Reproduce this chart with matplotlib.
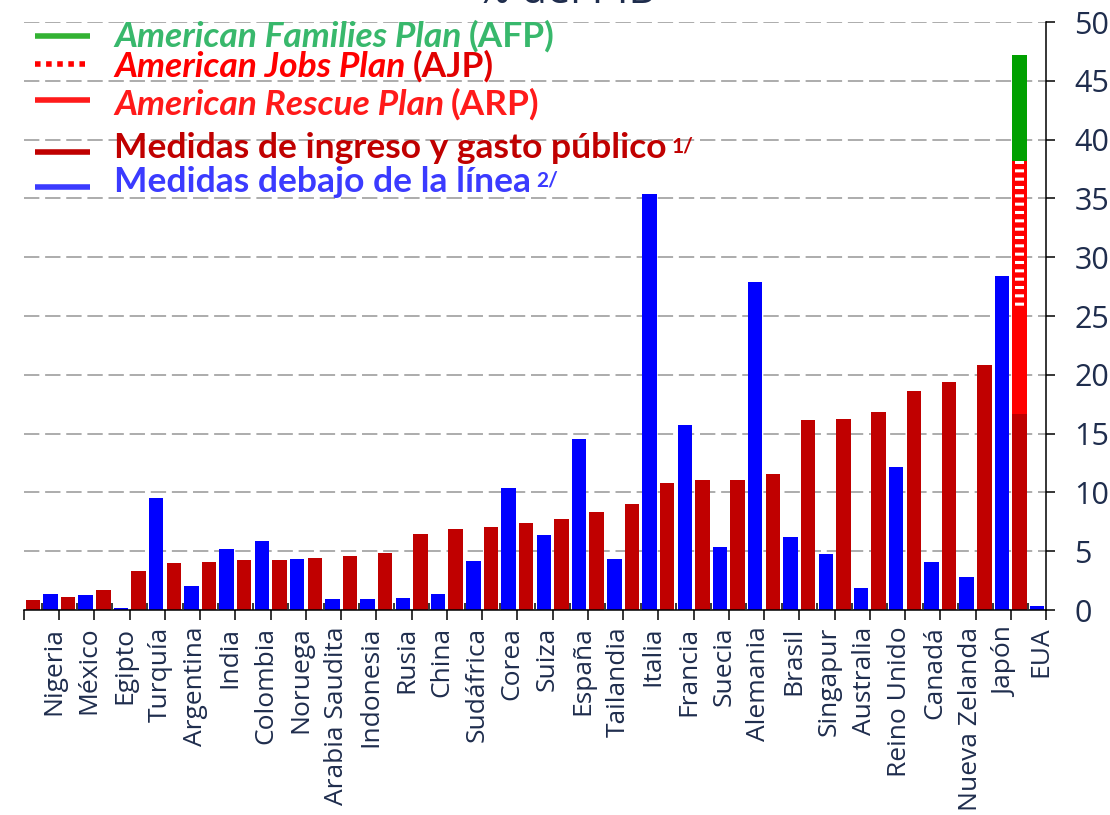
import numpy as np
import matplotlib.pyplot as plt
from matplotlib.lines import Line2D

paises = ["Nigeria", "México", "Egipto", "Turquía", "Argentina", "India",
          "Colombia", "Noruega", "Arabia Saudita", "Indonesia", "Rusia",
          "China", "Sudáfrica", "Corea", "Suiza", "España", "Tailandia",
          "Italia", "Francia", "Suecia", "Alemania", "Brasil", "Singapur",
          "Australia", "Reino Unido", "Canadá", "Nueva Zelanda", "Japón", "EUA"]
# medidas de ingreso y gasto publico (% del PIB)
ingreso_gasto = [0.86, 1.11, 1.69, 3.34, 4.03, 4.09, 4.23, 4.23, 4.43, 4.63,
                 4.83, 6.49, 6.86, 7.06, 7.37, 7.71, 8.37, 9.03, 10.83, 11.05,
                 11.08, 11.6, 16.15, 16.24, 16.87, 18.6, 19.43, 20.85, 16.67]
# medidas debajo de la linea (% del PIB)
debajo_linea = [1.34, 1.26, 0.2, 9.51, 2.03, 5.2, 5.83, 4.34, 0.91, 0.94,
                1.06, 1.37, 4.17, 10.34, 6.34, 14.57, 4.34, 35.4, 15.77, 5.37,
                27.93, 6.23, 4.75, 1.85, 12.14, 4.12, 2.84, 28.38, 0.31]
# planes adicionales de EUA
eua_arp = 8.9
eua_ajp = 12.6
eua_afp = 9.0

ROJO_OSC = '#c00000'
AZUL = '#0000ff'
ROJO = '#ff0000'
VERDE = '#00a000'
NAVY = '#1f2d4d'

plt.rcParams['font.family'] = ['Open Sans', 'DejaVu Sans']
plt.rcParams['hatch.linewidth'] = 2.2

W, H = 1110, 815
fig = plt.figure(figsize=(W/100, H/100), dpi=100)
ax = fig.add_axes([24/W, 1-610/H, (1046-24)/W, 588/H])

x = np.arange(len(paises))
bw = 0.41
ax.bar(x-0.25, ingreso_gasto, bw, color=ROJO_OSC, zorder=2)
ax.bar(x+0.25, debajo_linea, bw, color=AZUL, zorder=2)

# barra apilada de EUA
ie = len(paises)-1
base = ingreso_gasto[ie]
ax.bar(ie-0.25, eua_arp, bw, bottom=base, color=ROJO, zorder=2)
ax.bar(ie-0.25, eua_ajp, bw, bottom=base+eua_arp, color=ROJO, zorder=2)
ax.bar(ie-0.25, eua_ajp, bw*0.62, bottom=base+eua_arp, facecolor='none',
       edgecolor='white', hatch='--', linewidth=0, zorder=3)
ax.bar(ie-0.25, eua_afp, bw, bottom=base+eua_arp+eua_ajp, color=VERDE, zorder=2)

ax.set_xlim(-0.5, len(paises)-0.5)
ax.set_ylim(0, 50)

ax.set_xticks(np.arange(-0.5, len(paises)))
ax.set_xticks(x, labels=paises, minor=True)
ax.tick_params(axis='x', which='major', direction='out', length=7.5, width=1.1,
               labelbottom=False)
ax.tick_params(axis='x', which='minor', direction='in', length=5, width=1.1,
               pad=12, labelsize=19, labelcolor=NAVY, labelrotation=90)
for lab in ax.get_xticklabels(minor=True):
    lab.set_horizontalalignment('left')

ax.yaxis.tick_right()
ax.set_yticks(np.arange(0, 51, 5))
ax.tick_params(axis='y', direction='out', length=6.5, width=1.1, pad=14,
               labelsize=22, labelcolor=NAVY)

ax.grid(axis='y', color='#a6a6a6', linewidth=1.3, linestyle=(0, (8.5, 3.2)))
ax.set_axisbelow(True)

for s in ['left', 'top']:
    ax.spines[s].set_visible(False)
for s in ['right', 'bottom']:
    ax.spines[s].set_linewidth(1.1)

fig.text(566/W, 1-3/H, '% del PIB', ha='center', va='baseline',
         fontsize=30, color=NAVY)

# leyenda manual
LF = ['Lato', 'DejaVu Sans']
FS = 25.5

def fila(y_linea, y_base, color_linea, estilo, partes, sup=None):
    yl = 1 - y_linea/H
    fig.add_artist(Line2D([35/W, 90/W], [yl, yl], color=color_linea, lw=4,
                          ls=estilo, solid_capstyle='butt', dash_capstyle='butt'))
    prev = None
    for txt, col, sty in partes:
        if prev is None:
            prev = fig.text(114/W, 1-y_base/H, txt, color=col, style=sty,
                            fontsize=FS, fontweight='bold', family=LF,
                            va='baseline', ha='left')
        else:
            prev = ax.annotate(txt, xy=(1, 0), xycoords=prev, xytext=(5, 0),
                               textcoords='offset points', color=col, style=sty,
                               fontsize=FS, fontweight='bold', family=LF,
                               va='bottom', ha='left', annotation_clip=False)
    if sup is not None:
        ax.annotate(sup[0], xy=(1, 1), xycoords=prev, xytext=(4, -3),
                    textcoords='offset points', color=sup[1], fontsize=15,
                    fontweight='bold', family=LF, va='top', ha='left',
                    annotation_clip=False)

fila(35.5, 47, '#33b233', '-',
     [('American Families Plan', '#38b86c', 'italic'), ('(AFP)', '#38b86c', 'normal')])
fila(64, 77, '#ff0000', (0, (1, 1)),
     [('American Jobs Plan', '#ff0000', 'italic'), ('(AJP)', '#e00000', 'normal')])
fila(100, 115, '#ff1a1a', '-',
     [('American Rescue Plan', '#ff1a1a', 'italic'), ('(ARP)', '#ff1a1a', 'normal')])
fila(151.5, 158, ROJO_OSC, '-',
     [('Medidas de ingreso y gasto público', ROJO_OSC, 'normal')], sup=('1/', ROJO_OSC))
fila(187, 192, '#3b3bff', '-',
     [('Medidas debajo de la línea', '#3b3bff', 'normal')], sup=('2/', '#3b3bff'))

fig.savefig('out.png', dpi=100)
